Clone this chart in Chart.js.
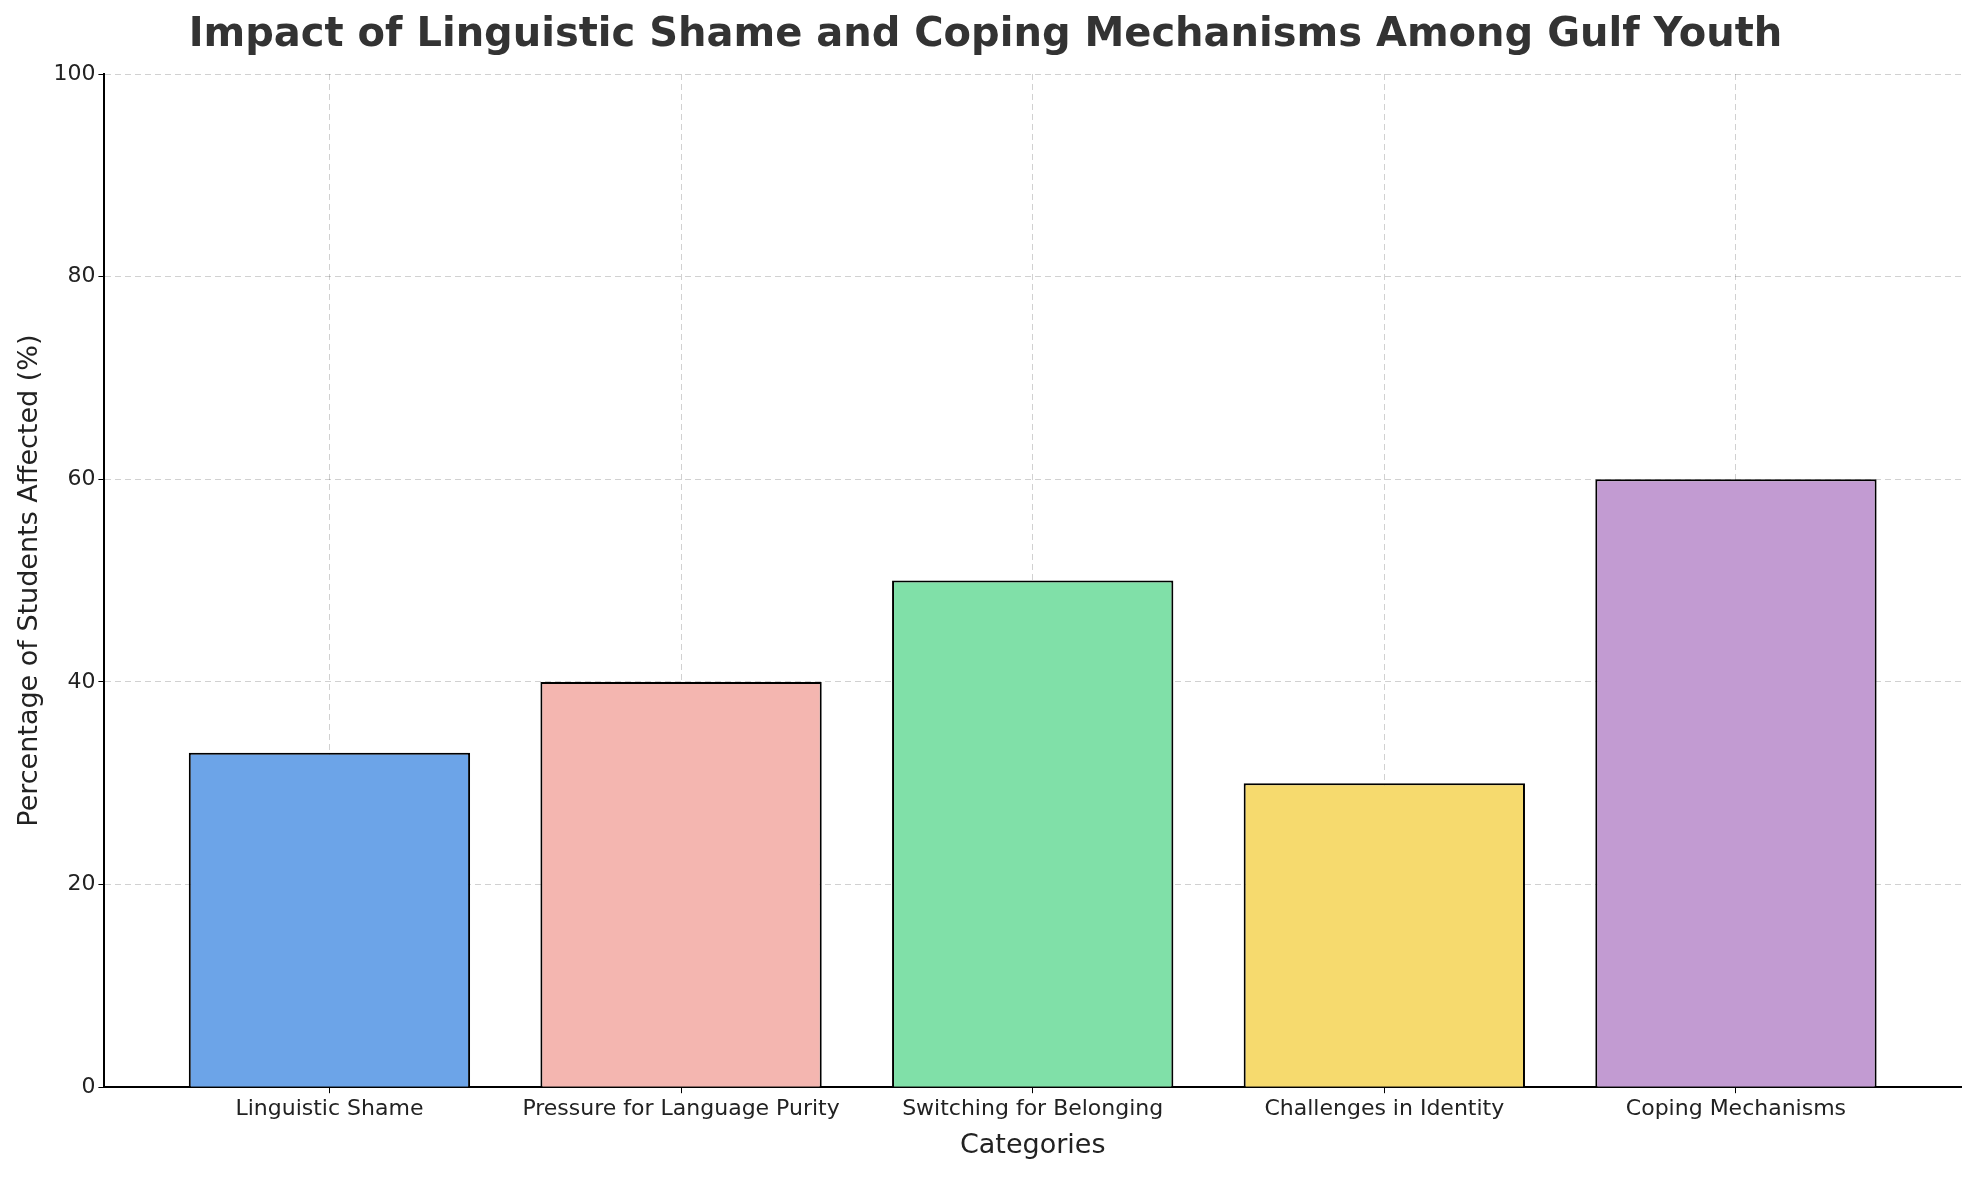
<!DOCTYPE html>
<html>
<head>
<meta charset="utf-8">
<script src="https://cdn.jsdelivr.net/npm/chart.js@4/dist/chart.umd.min.js"></script>
<style>
  html, body { margin: 0; padding: 0; background: #fff; }
  #wrap { width: 1979px; height: 1180px; position: relative; }
</style>
</head>
<body>
<div id="wrap"><canvas id="chart"></canvas></div>
<script>
// Linguistic shame survey - bar chart
const categories = ['Linguistic Shame', 'Pressure for Language Purity', 'Switching for Belonging', 'Challenges in Identity', 'Coping Mechanisms'];
const percentages = [33, 40, 50, 30, 60];
const barColors = ['#6ca4e8', '#f4b6b0', '#80e0a8', '#f6da6e', '#c29bd2'];
const yTicks = [0, 20, 40, 60, 80, 100];

const ctx = document.getElementById('chart');

new Chart(ctx, {
    type: 'bar',
    data: {
        datasets: [{
            data: percentages.map((v, i) => ({ x: i, y: v })),
            backgroundColor: barColors,
            borderColor: '#000',
            borderWidth: 2,
            barPercentage: 0.8,
            categoryPercentage: 1.0
        }]
    },
    options: {
        responsive: true,
        maintainAspectRatio: false,
        animation: false,
        layout: { padding: { top: 0, right: 18, bottom: 14, left: 10 } },
        plugins: {
            legend: { display: false },
            tooltip: { enabled: false },
            title: {
                display: true,
                text: 'Impact of Linguistic Shame and Coping Mechanisms Among Gulf Youth',
                color: '#333',
                font: { family: 'DejaVu Sans', size: 40, weight: 'bold' },
                padding: { top: 12, bottom: 14 }
            }
        },
        scales: {
            x: {
                type: 'linear',
                offset: false,
                min: -0.64,
                max: 4.64,
                afterBuildTicks: function(axis) {
                    axis.ticks = categories.map((c, i) => ({ value: i }));
                },
                ticks: {
                    autoSkip: false,
                    maxRotation: 0,
                    color: '#222',
                    font: { family: 'DejaVu Sans', size: 22 },
                    callback: function(value) { return categories[value]; }
                },
                grid: {
                    offset: false,
                    color: 'rgba(0,0,0,0.18)',
                    tickColor: '#000',
                    tickLength: 6
                },
                border: { color: '#000', width: 2, dash: [6, 4] },
                title: {
                    display: true,
                    text: 'Categories',
                    color: '#222',
                    font: { family: 'DejaVu Sans', size: 27 }
                }
            },
            y: {
                min: 0,
                max: 100,
                afterBuildTicks: function(axis) {
                    axis.ticks = yTicks.map(v => ({ value: v }));
                },
                ticks: {
                    color: '#222',
                    font: { family: 'DejaVu Sans', size: 22 }
                },
                grid: {
                    color: 'rgba(0,0,0,0.18)',
                    tickColor: '#000',
                    tickLength: 6
                },
                border: { color: '#000', width: 2, dash: [6, 4] },
                title: {
                    display: true,
                    text: 'Percentage of Students Affected (%)',
                    color: '#222',
                    font: { family: 'DejaVu Sans', size: 27 }
                }
            }
        }
    }
});
</script>
</body>
</html>
